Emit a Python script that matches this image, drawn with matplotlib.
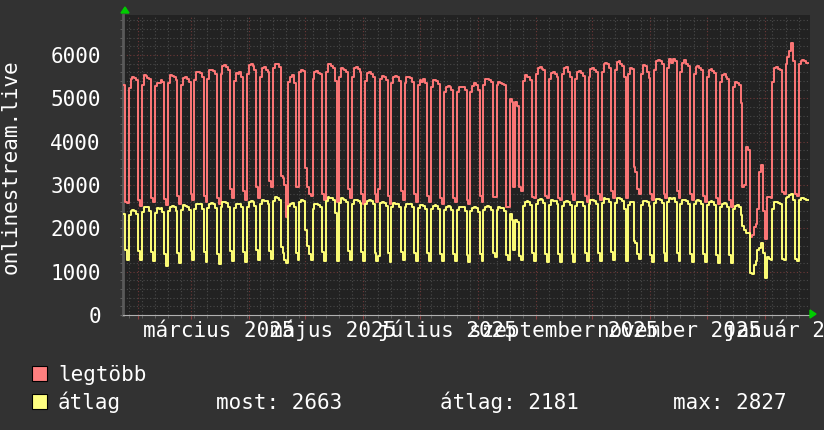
import datetime as dt
import matplotlib
matplotlib.use("Agg")
import matplotlib.pyplot as plt
import matplotlib.dates as mdates
from matplotlib.ticker import MultipleLocator
from matplotlib.patches import Rectangle, Polygon

# napi ertekek, 2025-01-24 (pentek) -tol, hetek hetfo..vasarnap
legtobb_head = [5300, 2600, 2580]
legtobb_weeks = [
    [5230, 5450, 5480, 5460, 5420, 2650, 2520],  # jan 27
    [5300, 5530, 5520, 5470, 5440, 2700, 2600],
    [5280, 5350, 5340, 5420, 5380, 2680, 2540],
    [5350, 5530, 5510, 5480, 5420, 2750, 2560],
    [5300, 5470, 5490, 5450, 5380, 2800, 2650],
    [5420, 5600, 5610, 5580, 5500, 2750, 2600],  # mar 3
    [5450, 5650, 5660, 5620, 5550, 2700, 2550],
    [5550, 5740, 5770, 5720, 5650, 2900, 2700],
    [5400, 5580, 5560, 5600, 5500, 2850, 2650],
    [5550, 5760, 5780, 5740, 5650, 2950, 2700],  # mar 31
    [5500, 5700, 5720, 5650, 5600, 3100, 2960],
    [5700, 5800, 5780, 5720, 3200, 3150, 3000],
    [2260, 5380, 5500, 5530, 5350, 2950, 2960],
    [5600, 5650, 5620, 3400, 2950, 2800, 2750],
    [5450, 5600, 5620, 5580, 5550, 2800, 2650],  # maj 5
    [5600, 5800, 5780, 5750, 5700, 5400, 2600],
    [5500, 5700, 5680, 5650, 5600, 2900, 2700],
    [5500, 5700, 5720, 5680, 5600, 2800, 2550],
    [5400, 5580, 5600, 5550, 5500, 2800, 2600],  # jun 2
    [2900, 5450, 5520, 5500, 5420, 2750, 2550],
    [5350, 5500, 5520, 5480, 5400, 2850, 2650],
    [5350, 5480, 5500, 5460, 5380, 2800, 2600],
    [5300, 5420, 5380, 5440, 5350, 2750, 2600],  # jun 30
    [5250, 5420, 5430, 5400, 5320, 2700, 2550],
    [5150, 5260, 5280, 5250, 5200, 2700, 2600],
    [5150, 5270, 5260, 5250, 5200, 2650, 2550],
    [5150, 5280, 5340, 5300, 5200, 2750, 2600],  # jul 28
    [5300, 5440, 5450, 5420, 5380, 2730, 2730],
    [5300, 5380, 5350, 5330, 5300, 2500, 2500],
    [4990, 4910, 2960, 4910, 4830, 2960, 2850],
    [5400, 5530, 5500, 5480, 5420, 2730, 2700],
    [5550, 5700, 5720, 5680, 5650, 2750, 2700],  # szep 1
    [5450, 5590, 5600, 5560, 5500, 2700, 2650],
    [5550, 5700, 5720, 5600, 5500, 2800, 2650],
    [5450, 5600, 5620, 5580, 5520, 2750, 2600],
    [5500, 5680, 5700, 5650, 5600, 2800, 2650],  # szep 29
    [5600, 5800, 5820, 5780, 5700, 2850, 2700],
    [5650, 5830, 5850, 5800, 5750, 5500, 2700],
    [5550, 5700, 5680, 3420, 3300, 2900, 2800],
    [5570, 5760, 5750, 5600, 5470, 2800, 2650],
    [5650, 5860, 5880, 5850, 5800, 2800, 2700],  # nov 3
    [5700, 5900, 5820, 5900, 5850, 2850, 2700],
    [5600, 5820, 5880, 5800, 5750, 2800, 2650],
    [5550, 5720, 5750, 5700, 5650, 2750, 2600],
    [5500, 5650, 5680, 5630, 5580, 2700, 2550],  # dec 1
    [5380, 5530, 5550, 5500, 5450, 2650, 2500],
    [5250, 5380, 5350, 5300, 4880, 2960, 3000],
    [3880, 3800, 1800, 1850, 2030, 2100, 2450],
    [3300, 3450, 2400, 1750, 2730, 2720, 2700],
    [5380, 5700, 5720, 5680, 5650, 2840, 2800],  # jan 5
    [5800, 5960, 6100, 6280, 5850, 2780, 2750],
    [5800, 5850, 5880, 5860, 5820],
]

atlag_head = [2340, 1500, 1270]
atlag_weeks = [
    [2300, 2400, 2420, 2400, 2330, 1480, 1270],  # jan 27
    [2380, 2500, 2490, 2480, 2400, 1450, 1250],
    [2350, 2460, 2450, 2470, 2380, 1400, 1120],
    [2400, 2500, 2510, 2480, 2400, 1420, 1200],
    [2420, 2530, 2520, 2500, 2420, 1480, 1260],
    [2450, 2570, 2560, 2550, 2450, 1450, 1230],  # mar 3
    [2460, 2570, 2580, 2560, 2470, 1400, 1180],
    [2500, 2610, 2600, 2590, 2500, 1480, 1250],
    [2460, 2570, 2560, 2570, 2480, 1450, 1220],
    [2500, 2610, 2620, 2600, 2520, 1500, 1270],  # mar 31
    [2550, 2650, 2640, 2630, 2550, 1480, 1300],
    [2620, 2720, 2700, 2650, 1580, 1420, 1270],
    [1190, 2520, 2570, 2580, 2500, 1420, 1280],
    [2600, 2650, 2640, 1960, 1600, 1400, 1270],
    [2450, 2560, 2570, 2540, 2480, 1450, 1250],  # maj 5
    [2620, 2720, 2700, 2690, 2650, 2350, 1250],
    [2580, 2690, 2680, 2660, 2600, 1480, 1280],
    [2560, 2650, 2660, 2640, 2580, 1450, 1240],
    [2550, 2640, 2650, 2630, 2560, 1430, 1250],  # jun 2
    [1350, 2580, 2600, 2590, 2520, 1420, 1230],
    [2500, 2580, 2570, 2560, 2500, 1450, 1260],
    [2490, 2570, 2560, 2550, 2480, 1440, 1250],
    [2460, 2530, 2540, 2520, 2450, 1420, 1240],  # jun 30
    [2440, 2520, 2530, 2510, 2440, 1400, 1250],
    [2420, 2500, 2510, 2490, 2420, 1400, 1240],
    [2420, 2500, 2490, 2480, 2400, 1380, 1230],
    [2400, 2470, 2480, 2460, 2380, 1400, 1250],  # jul 28
    [2430, 2500, 2510, 2490, 2430, 1420, 1340],
    [2420, 2480, 2470, 2460, 2400, 1380, 1270],
    [2340, 2190, 1500, 2190, 2150, 1350, 1270],
    [2520, 2610, 2620, 2600, 2530, 1420, 1250],
    [2560, 2660, 2670, 2650, 2580, 1400, 1230],  # szep 1
    [2540, 2650, 2640, 2630, 2560, 1410, 1220],
    [2520, 2610, 2620, 2600, 2530, 1400, 1230],
    [2520, 2610, 2610, 2600, 2520, 1420, 1250],
    [2550, 2650, 2660, 2640, 2560, 1430, 1240],  # szep 29
    [2580, 2690, 2680, 2670, 2600, 1450, 1260],
    [2590, 2690, 2700, 2680, 2620, 2450, 1250],
    [2540, 2610, 2600, 1700, 1650, 1400, 1300],
    [2540, 2630, 2640, 2600, 2520, 1380, 1230],
    [2580, 2670, 2680, 2660, 2590, 1420, 1250],  # nov 3
    [2600, 2690, 2680, 2690, 2610, 1430, 1240],
    [2560, 2650, 2660, 2640, 2570, 1410, 1230],
    [2550, 2640, 2650, 2630, 2560, 1400, 1220],
    [2530, 2610, 2620, 2600, 2530, 1390, 1210],  # dec 1
    [2490, 2570, 2580, 2560, 2500, 1380, 1200],
    [2450, 2520, 2530, 2500, 2300, 2050, 1950],
    [1900, 1880, 960, 940, 1150, 1250, 1500],
    [1550, 1650, 1420, 845, 1340, 1300, 1260],
    [2450, 2600, 2610, 2590, 2550, 1300, 1270],  # jan 5
    [2700, 2720, 2760, 2800, 2650, 1290, 1250],
    [2650, 2690, 2700, 2680, 2663],
]

honap_cimkek = ["március 2025", "május 2025", "július 2025",
                "szeptember 2025", "november 2025", "január 2026"]
honap_helyek = ["2025-03-16", "2025-05-16", "2025-07-16",
                "2025-09-16", "2025-11-16", "2026-01-16"]
y_ertekek = [0, 1000, 2000, 3000, 4000, 5000, 6000]

most, atl, mx = "2663", "2181", "2827"

legtobb = legtobb_head + [v for w in legtobb_weeks for v in w]
atlag = atlag_head + [v for w in atlag_weeks for v in w]

start = dt.datetime(2025, 1, 24)
napok = [start + dt.timedelta(days=i) for i in range(len(legtobb) + 1)]

BG = "#323232"
PLOT_BG = "#222222"
RED = "#ff7777"
YEL = "#ffff77"

plt.rcParams["font.family"] = ["DejaVu Sans Mono"]
plt.rcParams["font.size"] = 15

W, H = 824, 430
fig = plt.figure(figsize=(W / 100, H / 100), dpi=100, facecolor=BG)


def fx(px):
    return px / W


def fy(py):
    return 1 - py / H


ax = fig.add_axes([fx(123), fy(315), fx(810) - fx(123), fy(15) - fy(315)])
ax.set_facecolor(PLOT_BG)

ax.plot(napok, legtobb + legtobb[-1:], drawstyle="steps-post", color=RED, lw=1.4, zorder=3)
ax.plot(napok, atlag + atlag[-1:], drawstyle="steps-post", color=YEL, lw=1.4, zorder=4)

ax.set_xlim(start, dt.datetime(2026, 1, 25))
ax.set_ylim(0, 6920)

ax.xaxis.set_major_locator(mdates.MonthLocator())
ax.xaxis.set_minor_locator(mdates.WeekdayLocator(byweekday=mdates.MO))
ax.xaxis.set_major_formatter(plt.NullFormatter())
ax.yaxis.set_major_locator(MultipleLocator(1000))
ax.yaxis.set_minor_locator(MultipleLocator(200))
ax.set_yticks(y_ertekek)
ax.set_yticklabels([str(v) for v in y_ertekek], color="white")

ax.set_axisbelow(True)
ax.grid(which="minor", color="#4a4a4a", ls=(0, (1, 2)), lw=0.8)
ax.grid(which="major", color="#6e3838", ls=(0, (1, 2)), lw=0.8)

ax.tick_params(axis="x", which="major", length=3, color="#8a4040", direction="out")
ax.tick_params(axis="x", which="minor", length=2, color="#666666", direction="out")
ax.tick_params(axis="y", which="both", length=2, color="#666666", pad=14)

for s in ["top", "right"]:
    ax.spines[s].set_visible(False)
ax.spines["bottom"].set_color("#b0b0b0")
ax.spines["left"].set_color("#5a5a5a")
ax.spines["left"].set_linewidth(2)

trans = ax.get_xaxis_transform()
for hely, cimke in zip(honap_helyek, honap_cimkek):
    ax.text(dt.datetime.fromisoformat(hely), -22 / 300, cimke, transform=trans,
            ha="center", va="baseline", color="white", clip_on=False)

fig.text(fx(11), fy(167), "onlinestream.live", rotation=90, ha="center",
         va="center", color="white")

# nyilak
fig.add_artist(Polygon([[fx(121), fy(13)], [fx(129), fy(13)], [fx(125), fy(7)]],
                       closed=True, color="#00cc00", transform=fig.transFigure))
fig.add_artist(Polygon([[fx(810), fy(310)], [fx(810), fy(318)], [fx(816), fy(314)]],
                       closed=True, color="#00cc00", transform=fig.transFigure))

# jelmagyarazat
fig.add_artist(Rectangle((fx(32), fy(381)), fx(15), fy(366) - fy(381), facecolor="#ff7f7f",
                         edgecolor="black", lw=0.8, transform=fig.transFigure))
fig.add_artist(Rectangle((fx(32), fy(409)), fx(15), fy(394) - fy(409), facecolor="#ffff80",
                         edgecolor="black", lw=0.8, transform=fig.transFigure))
fig.text(fx(58), fy(381), "legtöbb", color="white", va="baseline")
fig.text(fx(58), fy(409), "átlag", color="white", va="baseline")
fig.text(fx(216), fy(409), "most: " + most, color="white", va="baseline")
fig.text(fx(440), fy(409), "átlag: " + atl, color="white", va="baseline")
fig.text(fx(673), fy(409), "max: " + mx, color="white", va="baseline")

fig.savefig("out.png", dpi=100, facecolor=BG)
